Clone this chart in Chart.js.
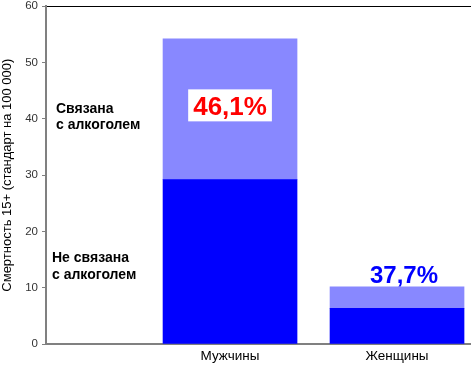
<!DOCTYPE html>
<html lang="ru">
  <head>
    <meta charset="UTF-8" />
    <title>Смертность 15+</title>
    <script src="https://cdn.jsdelivr.net/npm/chart.js"></script>
    <style>
      html, body { margin: 0; padding: 0; background: #fff; }
      #wrap { width: 471px; height: 365px; }
    </style>
  </head>
  <body>
    <div id="wrap"><canvas id="myChart" width="471" height="365"></canvas></div>
    <script>
      // данные
      var categories = ["Мужчины", "Женщины"];
      var notAlcohol = [29.2, 6.34];
      var alcohol = [25.0, 3.83];
      var shareLabels = ["46,1%", "37,7%"];
      var yTicks = [0, 10, 20, 30, 40, 50, 60];

      // подписи на графике
      var textPlugin = {
        id: "texts",
        afterDatasetsDraw: function (chart) {
          var c = chart.ctx;
          var xs = chart.scales.x;
          var ys = chart.scales.y;
          var left = chart.chartArea.left;
          c.save();
          c.textBaseline = "alphabetic";

          // Связана / Не связана
          c.fillStyle = "#000";
          c.font = "bold 14px 'Liberation Sans', Arial, sans-serif";
          c.textAlign = "left";
          c.fillText("Связана", left + 10, ys.getPixelForValue(41.0));
          c.fillText("с алкоголем", left + 10, ys.getPixelForValue(38.2));
          c.fillText("Не связана", left + 6, ys.getPixelForValue(14.6));
          c.fillText("с алкоголем", left + 6, ys.getPixelForValue(11.55));

          // 46,1%
          c.textAlign = "center";
          c.font = "bold 26px 'Liberation Sans', Arial, sans-serif";
          var x1 = xs.getPixelForValue(1);
          var y1 = ys.getPixelForValue(42.4);
          var w1 = c.measureText(shareLabels[0]).width;
          c.fillStyle = "#fff";
          c.fillRect(x1 - w1 / 2 - 5, y1 - 16, w1 + 10, 32);
          c.fillStyle = "#ff0000";
          c.fillText(shareLabels[0], x1, y1 + 10);

          // 37,7%
          c.font = "bold 24px 'Liberation Sans', Arial, sans-serif";
          c.fillStyle = "#0000ff";
          var x2 = xs.getPixelForValue(2) + 7;
          var y2 = ys.getPixelForValue(notAlcohol[1] + alcohol[1]) - 4;
          c.fillText(shareLabels[1], x2, y2);
          c.restore();
        },
      };

      var ctx = document.getElementById("myChart").getContext("2d");

      new Chart(ctx, {
        type: "bar",
        data: {
          datasets: [
            {
              label: "Не связана с алкоголем",
              data: notAlcohol.map(function (v, i) { return { x: i + 1, y: v }; }),
              backgroundColor: "#0000ff",
              barThickness: 134,
            },
            {
              label: "Связана с алкоголем",
              data: alcohol.map(function (v, i) { return { x: i + 1, y: v }; }),
              backgroundColor: "#8888ff",
              barThickness: 134,
            },
          ],
        },
        options: {
          responsive: false,
          animation: false,
          layout: { padding: { top: 4, right: 0 } },
          plugins: {
            legend: { display: false },
            tooltip: { enabled: false },
          },
          scales: {
            x: {
              type: "linear",
              stacked: true,
              offset: false,
              min: -0.102,
              max: 2.443,
              grid: { display: false, drawTicks: false, tickLength: 0 },
              border: { color: "#808080", width: 2 },
              afterBuildTicks: function (scale) {
                scale.ticks = categories.map(function (c, i) { return { value: i + 1 }; });
              },
              afterFit: function (scale) { scale.height = 21; },
              ticks: {
                padding: 4,
                color: "#000",
                font: { size: 13.5, family: "'Liberation Sans', Arial, sans-serif" },
                callback: function (v) { return categories[v - 1]; },
              },
            },
            y: {
              stacked: true,
              min: 0,
              max: 60,
              afterBuildTicks: function (scale) {
                scale.ticks = yTicks.map(function (v) { return { value: v }; });
              },
              afterFit: function (scale) { scale.width = 46; },
              grid: {
                color: function (c) { return c.tick && c.tick.value === 60 ? "#000" : "rgba(0,0,0,0)"; },
                tickColor: "#808080",
                tickLength: 4,
                lineWidth: 1,
              },
              border: { color: "#808080", width: 2 },
              ticks: {
                padding: 4,
                color: "#333",
                font: { size: 11.5, lineHeight: 0.4, family: "'Liberation Sans', Arial, sans-serif" },
              },
              title: {
                display: true,
                text: "Смертность 15+ (стандарт на 100 000)",
                color: "#000",
                padding: { top: 0, bottom: 0 },
                font: { size: 13, family: "'Liberation Sans', Arial, sans-serif" },
              },
            },
          },
        },
        plugins: [textPlugin],
      });
    </script>
  </body>
</html>
